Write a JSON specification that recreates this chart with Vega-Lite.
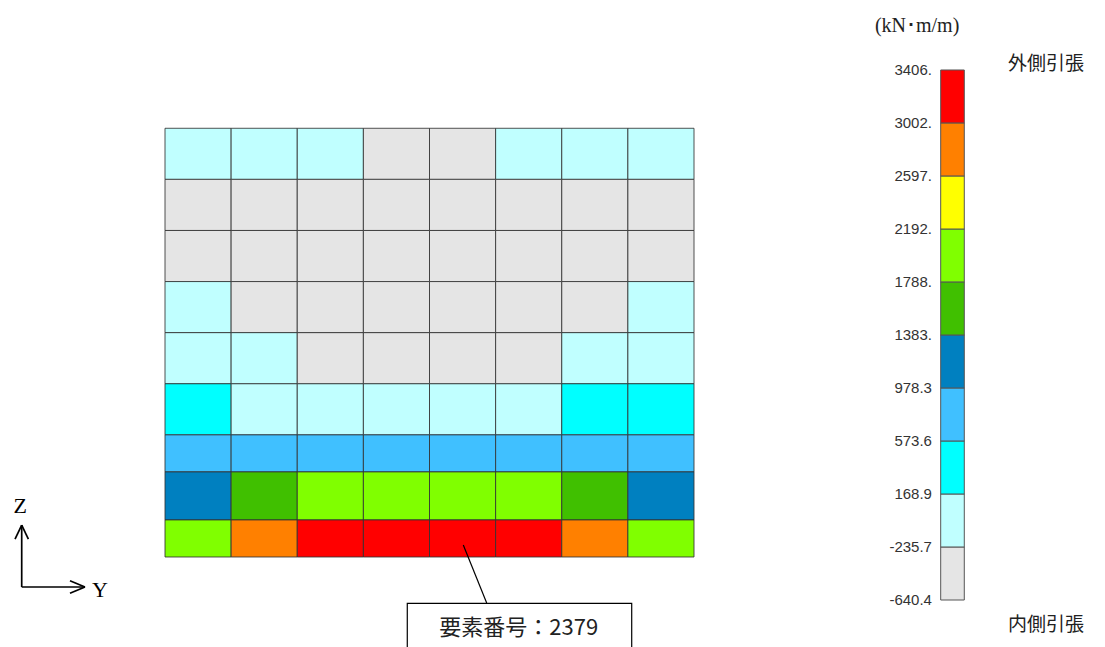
{
  "$schema": "https://vega.github.io/schema/vega-lite/v6.json",
  "width": 1105,
  "height": 647,
  "autosize": {"type": "fit", "contains": "padding"},
  "padding": 0,
  "background": "white",
  "config": {"view": {"stroke": null}},
  "datasets": {
    "cells": [
      {"y0": 0, "y1": 1, "z0": 7.39, "z1": 8.39, "value": -150},
      {"y0": 1, "y1": 2, "z0": 7.39, "z1": 8.39, "value": -60},
      {"y0": 2, "y1": 3, "z0": 7.39, "z1": 8.39, "value": -200},
      {"y0": 3, "y1": 4, "z0": 7.39, "z1": 8.39, "value": -300},
      {"y0": 4, "y1": 5, "z0": 7.39, "z1": 8.39, "value": -300},
      {"y0": 5, "y1": 6, "z0": 7.39, "z1": 8.39, "value": -200},
      {"y0": 6, "y1": 7, "z0": 7.39, "z1": 8.39, "value": -60},
      {"y0": 7, "y1": 8, "z0": 7.39, "z1": 8.39, "value": -150},
      {"y0": 0, "y1": 1, "z0": 6.39, "z1": 7.39, "value": -420},
      {"y0": 1, "y1": 2, "z0": 6.39, "z1": 7.39, "value": -380},
      {"y0": 2, "y1": 3, "z0": 6.39, "z1": 7.39, "value": -360},
      {"y0": 3, "y1": 4, "z0": 6.39, "z1": 7.39, "value": -350},
      {"y0": 4, "y1": 5, "z0": 6.39, "z1": 7.39, "value": -350},
      {"y0": 5, "y1": 6, "z0": 6.39, "z1": 7.39, "value": -360},
      {"y0": 6, "y1": 7, "z0": 6.39, "z1": 7.39, "value": -380},
      {"y0": 7, "y1": 8, "z0": 6.39, "z1": 7.39, "value": -420},
      {"y0": 0, "y1": 1, "z0": 5.39, "z1": 6.39, "value": -500},
      {"y0": 1, "y1": 2, "z0": 5.39, "z1": 6.39, "value": -450},
      {"y0": 2, "y1": 3, "z0": 5.39, "z1": 6.39, "value": -420},
      {"y0": 3, "y1": 4, "z0": 5.39, "z1": 6.39, "value": -410},
      {"y0": 4, "y1": 5, "z0": 5.39, "z1": 6.39, "value": -410},
      {"y0": 5, "y1": 6, "z0": 5.39, "z1": 6.39, "value": -420},
      {"y0": 6, "y1": 7, "z0": 5.39, "z1": 6.39, "value": -450},
      {"y0": 7, "y1": 8, "z0": 5.39, "z1": 6.39, "value": -500},
      {"y0": 0, "y1": 1, "z0": 4.39, "z1": 5.39, "value": -200},
      {"y0": 1, "y1": 2, "z0": 4.39, "z1": 5.39, "value": -330},
      {"y0": 2, "y1": 3, "z0": 4.39, "z1": 5.39, "value": -400},
      {"y0": 3, "y1": 4, "z0": 4.39, "z1": 5.39, "value": -420},
      {"y0": 4, "y1": 5, "z0": 4.39, "z1": 5.39, "value": -420},
      {"y0": 5, "y1": 6, "z0": 4.39, "z1": 5.39, "value": -400},
      {"y0": 6, "y1": 7, "z0": 4.39, "z1": 5.39, "value": -330},
      {"y0": 7, "y1": 8, "z0": 4.39, "z1": 5.39, "value": -200},
      {"y0": 0, "y1": 1, "z0": 3.39, "z1": 4.39, "value": 20},
      {"y0": 1, "y1": 2, "z0": 3.39, "z1": 4.39, "value": -180},
      {"y0": 2, "y1": 3, "z0": 3.39, "z1": 4.39, "value": -260},
      {"y0": 3, "y1": 4, "z0": 3.39, "z1": 4.39, "value": -300},
      {"y0": 4, "y1": 5, "z0": 3.39, "z1": 4.39, "value": -300},
      {"y0": 5, "y1": 6, "z0": 3.39, "z1": 4.39, "value": -260},
      {"y0": 6, "y1": 7, "z0": 3.39, "z1": 4.39, "value": -180},
      {"y0": 7, "y1": 8, "z0": 3.39, "z1": 4.39, "value": 20},
      {"y0": 0, "y1": 1, "z0": 2.39, "z1": 3.39, "value": 240},
      {"y0": 1, "y1": 2, "z0": 2.39, "z1": 3.39, "value": 60},
      {"y0": 2, "y1": 3, "z0": 2.39, "z1": 3.39, "value": -20},
      {"y0": 3, "y1": 4, "z0": 2.39, "z1": 3.39, "value": -60},
      {"y0": 4, "y1": 5, "z0": 2.39, "z1": 3.39, "value": -60},
      {"y0": 5, "y1": 6, "z0": 2.39, "z1": 3.39, "value": -20},
      {"y0": 6, "y1": 7, "z0": 2.39, "z1": 3.39, "value": 190},
      {"y0": 7, "y1": 8, "z0": 2.39, "z1": 3.39, "value": 240},
      {"y0": 0, "y1": 1, "z0": 1.665, "z1": 2.39, "value": 700},
      {"y0": 1, "y1": 2, "z0": 1.665, "z1": 2.39, "value": 650},
      {"y0": 2, "y1": 3, "z0": 1.665, "z1": 2.39, "value": 620},
      {"y0": 3, "y1": 4, "z0": 1.665, "z1": 2.39, "value": 610},
      {"y0": 4, "y1": 5, "z0": 1.665, "z1": 2.39, "value": 610},
      {"y0": 5, "y1": 6, "z0": 1.665, "z1": 2.39, "value": 620},
      {"y0": 6, "y1": 7, "z0": 1.665, "z1": 2.39, "value": 650},
      {"y0": 7, "y1": 8, "z0": 1.665, "z1": 2.39, "value": 700},
      {"y0": 0, "y1": 1, "z0": 0.725, "z1": 1.665, "value": 1150},
      {"y0": 1, "y1": 2, "z0": 0.725, "z1": 1.665, "value": 1650},
      {"y0": 2, "y1": 3, "z0": 0.725, "z1": 1.665, "value": 1950},
      {"y0": 3, "y1": 4, "z0": 0.725, "z1": 1.665, "value": 2050},
      {"y0": 4, "y1": 5, "z0": 0.725, "z1": 1.665, "value": 2050},
      {"y0": 5, "y1": 6, "z0": 0.725, "z1": 1.665, "value": 1950},
      {"y0": 6, "y1": 7, "z0": 0.725, "z1": 1.665, "value": 1650},
      {"y0": 7, "y1": 8, "z0": 0.725, "z1": 1.665, "value": 1150},
      {"y0": 0, "y1": 1, "z0": 0, "z1": 0.725, "value": 2100},
      {"y0": 1, "y1": 2, "z0": 0, "z1": 0.725, "value": 2800},
      {"y0": 2, "y1": 3, "z0": 0, "z1": 0.725, "value": 3250},
      {"y0": 3, "y1": 4, "z0": 0, "z1": 0.725, "value": 3380},
      {"y0": 4, "y1": 5, "z0": 0, "z1": 0.725, "value": 3406},
      {"y0": 5, "y1": 6, "z0": 0, "z1": 0.725, "value": 3250},
      {"y0": 6, "y1": 7, "z0": 0, "z1": 0.725, "value": 2800},
      {"y0": 7, "y1": 8, "z0": 0, "z1": 0.725, "value": 2100}
    ],
    "arrows": [
      {"ya": -2.167, "za": -0.587, "yb": -2.167, "zb": 0.626},
      {"ya": -2.268, "za": 0.352, "yb": -2.167, "zb": 0.626},
      {"ya": -2.066, "za": 0.352, "yb": -2.167, "zb": 0.626},
      {"ya": -2.167, "za": -0.587, "yb": -1.21, "zb": -0.587},
      {"ya": -1.437, "za": -0.464, "yb": -1.21, "zb": -0.587},
      {"ya": -1.437, "za": -0.71, "yb": -1.21, "zb": -0.587}
    ],
    "bins": [
      {"lo": -640.4, "hi": -235.7},
      {"lo": -235.7, "hi": 168.9},
      {"lo": 168.9, "hi": 573.6},
      {"lo": 573.6, "hi": 978.3},
      {"lo": 978.3, "hi": 1383},
      {"lo": 1383, "hi": 1788},
      {"lo": 1788, "hi": 2192},
      {"lo": 2192, "hi": 2597},
      {"lo": 2597, "hi": 3002},
      {"lo": 3002, "hi": 3406}
    ],
    "ticks": [
      {"v": 3406, "label": "3406."},
      {"v": 3002, "label": "3002."},
      {"v": 2597, "label": "2597."},
      {"v": 2192, "label": "2192."},
      {"v": 1788, "label": "1788."},
      {"v": 1383, "label": "1383."},
      {"v": 978.3, "label": "978.3"},
      {"v": 573.6, "label": "573.6"},
      {"v": 168.9, "label": "168.9"},
      {"v": -235.7, "label": "-235.7"},
      {"v": -640.4, "label": "-640.4"}
    ]
  },
  "layer": [
    {
      "layer": [
        {
          "data": {"name": "cells"},
          "mark": {"type": "rect", "stroke": "#333333", "strokeWidth": 1, "strokeOpacity": 0.85},
          "encoding": {
            "x": {"field": "y0", "type": "quantitative", "scale": {"domain": [-2.4953, 14.2155], "nice": false, "zero": false}, "axis": null},
            "x2": {"field": "y1"},
            "y": {"field": "z0", "type": "quantitative", "scale": {"domain": [-1.7613, 10.9002], "nice": false, "zero": false}, "axis": null},
            "y2": {"field": "z1"},
            "color": {
              "field": "value", "type": "quantitative",
              "scale": {"type": "threshold", "domain": [-235.7, 168.9, 573.6, 978.3, 1383, 1788, 2192, 2597, 3002],
                "range": ["#e5e5e5", "#c0ffff", "#00ffff", "#40c0ff", "#0080c0", "#40c000", "#80ff00", "#ffff00", "#ff8000", "#ff0000"]},
              "legend": null
            }
          }
        },
        {
          "data": {"name": "arrows"},
          "mark": {"type": "rule", "color": "black", "strokeWidth": 1.7},
          "encoding": {
            "x": {"field": "ya", "type": "quantitative", "scale": {"domain": [-2.4953, 14.2155], "nice": false, "zero": false}, "axis": null},
            "x2": {"field": "yb"},
            "y": {"field": "za", "type": "quantitative", "scale": {"domain": [-1.7613, 10.9002], "nice": false, "zero": false}, "axis": null},
            "y2": {"field": "zb"}
          }
        },
        {
          "data": {"values": [{"ya": -2.19, "za": 0.998, "t": "Z"}, {"ya": -0.983, "za": -0.646, "t": "Y"}]},
          "mark": {"type": "text", "font": "Liberation Serif", "fontSize": 22, "color": "black", "align": "center", "baseline": "middle"},
          "encoding": {
            "x": {"field": "ya", "type": "quantitative", "scale": {"domain": [-2.4953, 14.2155], "nice": false, "zero": false}, "axis": null},
            "y": {"field": "za", "type": "quantitative", "scale": {"domain": [-1.7613, 10.9002], "nice": false, "zero": false}, "axis": null},
            "text": {"field": "t"}
          }
        },
        {
          "data": {"values": [{"ya": 4.511, "za": 0.235, "yb": 4.865, "zb": -0.9}]},
          "mark": {"type": "rule", "color": "black", "strokeWidth": 1.2},
          "encoding": {
            "x": {"field": "ya", "type": "quantitative", "scale": {"domain": [-2.4953, 14.2155], "nice": false, "zero": false}, "axis": null},
            "x2": {"field": "yb"},
            "y": {"field": "za", "type": "quantitative", "scale": {"domain": [-1.7613, 10.9002], "nice": false, "zero": false}, "axis": null},
            "y2": {"field": "zb"}
          }
        },
        {
          "data": {"values": [{"ya": 3.664, "za": -0.906, "yb": 7.058, "zb": -2.2}]},
          "mark": {"type": "rect", "fill": "white", "stroke": "black", "strokeWidth": 1.2, "clip": true},
          "encoding": {
            "x": {"field": "ya", "type": "quantitative", "scale": {"domain": [-2.4953, 14.2155], "nice": false, "zero": false}, "axis": null},
            "x2": {"field": "yb"},
            "y": {"field": "za", "type": "quantitative", "scale": {"domain": [-1.7613, 10.9002], "nice": false, "zero": false}, "axis": null},
            "y2": {"field": "zb"}
          }
        },
        {
          "data": {"values": [{"ya": 5.35, "za": -1.389, "t": "要素番号：2379"}]},
          "mark": {"type": "text", "font": "Noto Sans CJK JP", "fontSize": 22, "color": "#222222", "align": "center", "baseline": "middle"},
          "encoding": {
            "x": {"field": "ya", "type": "quantitative", "scale": {"domain": [-2.4953, 14.2155], "nice": false, "zero": false}, "axis": null},
            "y": {"field": "za", "type": "quantitative", "scale": {"domain": [-1.7613, 10.9002], "nice": false, "zero": false}, "axis": null},
            "text": {"field": "t"}
          }
        }
      ]
    },
    {
      "layer": [
        {
          "data": {"name": "bins"},
          "mark": {"type": "rect", "stroke": "#555555", "strokeWidth": 1},
          "encoding": {
            "x": {"datum": 0, "type": "quantitative", "scale": {"domain": [-39.86, 6.962], "nice": false, "zero": false}, "axis": null},
            "x2": {"datum": 1},
            "y": {"field": "lo", "type": "quantitative", "scale": {"domain": [-999.2, 3940.4], "nice": false, "zero": false}, "axis": null},
            "y2": {"field": "hi"},
            "color": {
              "field": "lo", "type": "quantitative",
              "scale": {"type": "threshold", "domain": [-235.7, 168.9, 573.6, 978.3, 1383, 1788, 2192, 2597, 3002],
                "range": ["#e5e5e5", "#c0ffff", "#00ffff", "#40c0ff", "#0080c0", "#40c000", "#80ff00", "#ffff00", "#ff8000", "#ff0000"]},
              "legend": null
            }
          }
        },
        {
          "data": {"name": "ticks"},
          "mark": {"type": "text", "font": "Liberation Sans", "fontSize": 15, "color": "#333333", "align": "right", "baseline": "middle"},
          "encoding": {
            "x": {"datum": -0.37, "type": "quantitative", "scale": {"domain": [-39.86, 6.962], "nice": false, "zero": false}, "axis": null},
            "y": {"field": "v", "type": "quantitative", "scale": {"domain": [-999.2, 3940.4], "nice": false, "zero": false}, "axis": null},
            "text": {"field": "label"}
          }
        },
        {
          "data": {"values": [{"px": 2.852, "v": 3451.8, "t": "外側引張"}, {"px": 2.852, "v": -831.3, "t": "内側引張"}]},
          "mark": {"type": "text", "font": "Noto Sans CJK JP", "fontSize": 19, "color": "#222222", "align": "left", "baseline": "middle"},
          "encoding": {
            "x": {"field": "px", "type": "quantitative", "scale": {"domain": [-39.86, 6.962], "nice": false, "zero": false}, "axis": null},
            "y": {"field": "v", "type": "quantitative", "scale": {"domain": [-999.2, 3940.4], "nice": false, "zero": false}, "axis": null},
            "text": {"field": "t"}
          }
        },
        {
          "data": {"values": [{"px": -1.0, "v": 3741.9, "t": "(kN･m/m)"}]},
          "mark": {"type": "text", "font": "Liberation Serif", "fontSize": 20, "color": "#222222", "align": "center", "baseline": "middle"},
          "encoding": {
            "x": {"field": "px", "type": "quantitative", "scale": {"domain": [-39.86, 6.962], "nice": false, "zero": false}, "axis": null},
            "y": {"field": "v", "type": "quantitative", "scale": {"domain": [-999.2, 3940.4], "nice": false, "zero": false}, "axis": null},
            "text": {"field": "t"}
          }
        }
      ]
    }
  ],
  "resolve": {"scale": {"x": "independent", "y": "independent"}}
}
